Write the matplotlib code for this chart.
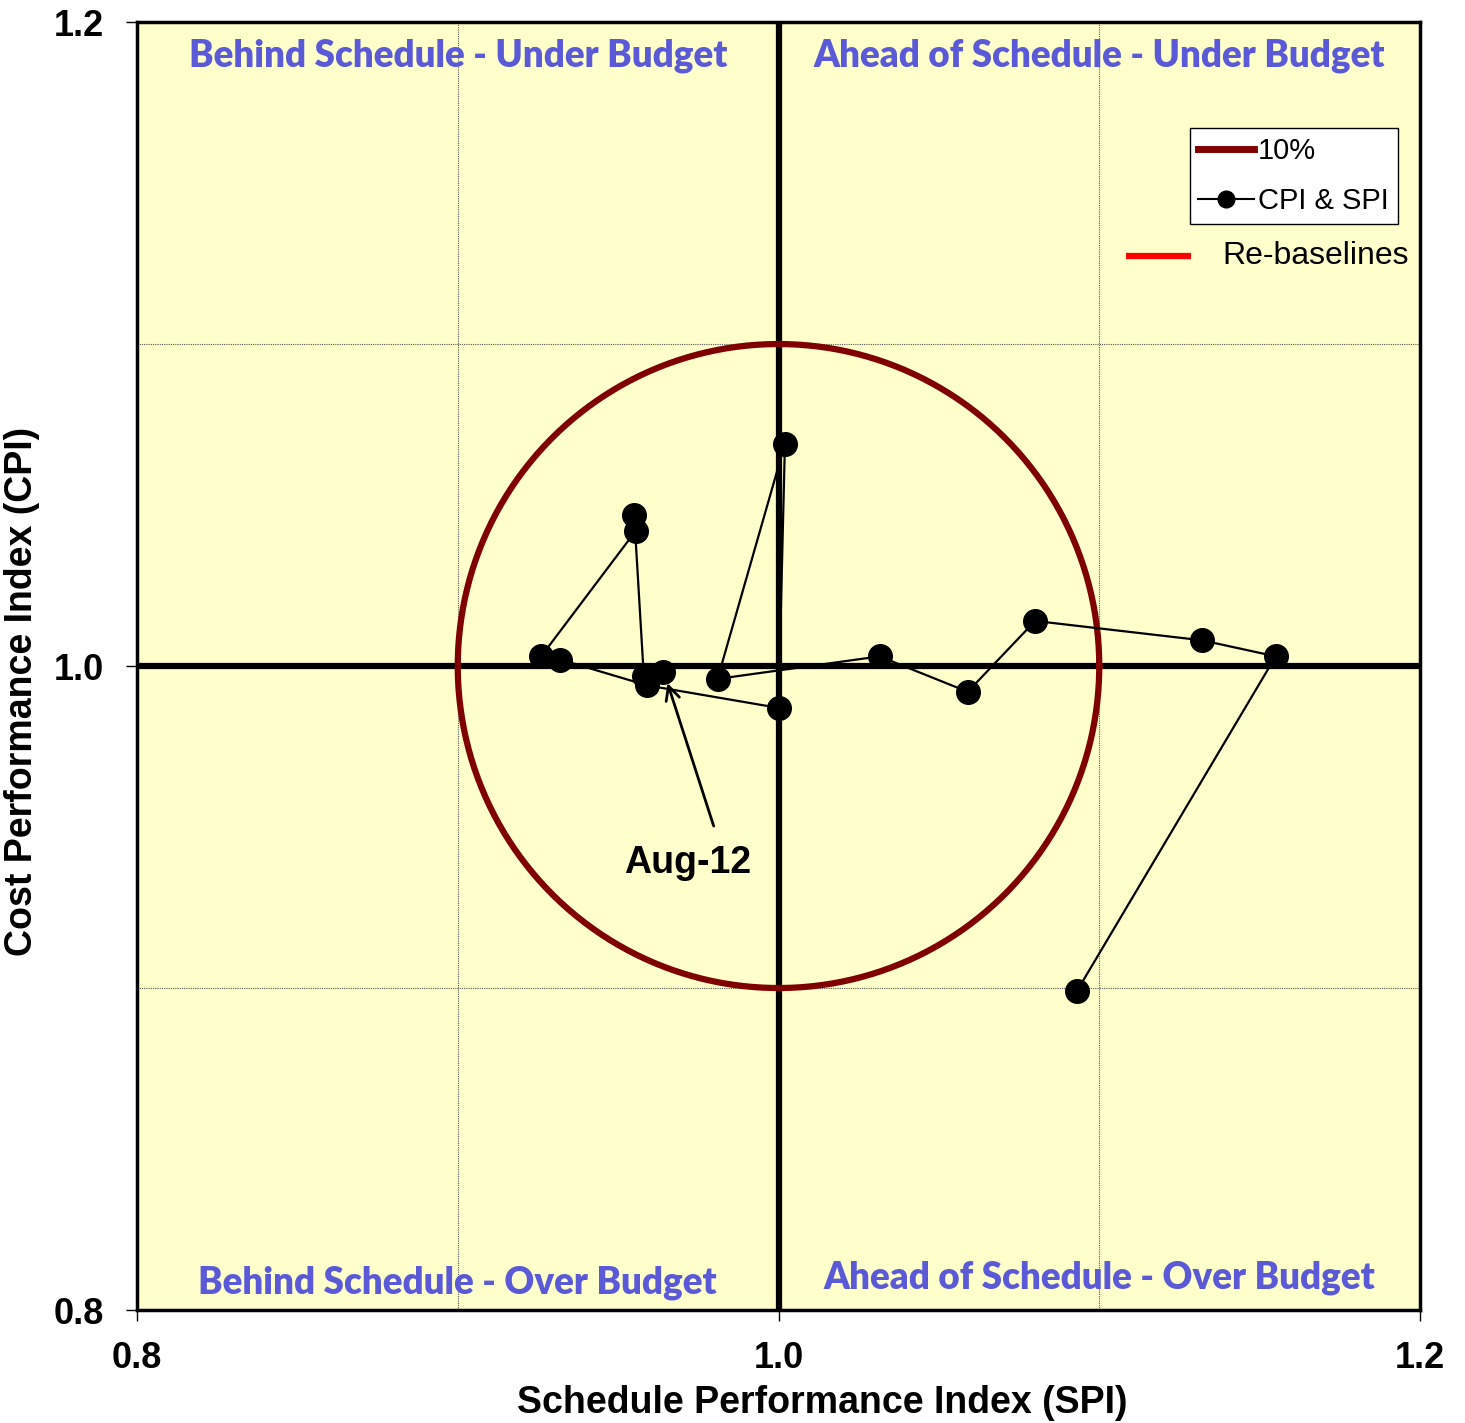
import matplotlib.pyplot as plt
import numpy as np

plt.rcParams['font.family'] = ['Liberation Sans', 'DejaVu Sans']

# CPI & SPI history (oldest first, last point is Aug-12)
spi = [1.093, 1.155, 1.132, 1.080, 1.059, 1.0315, 0.981, 1.002, 1.000,
       0.959, 0.932, 0.926, 0.9555, 0.955, 0.958, 0.964]
cpi = [0.899, 1.003, 1.008, 1.014, 0.992, 1.003, 0.996, 1.069, 0.987,
       0.994, 1.002, 1.003, 1.042, 1.047, 0.997, 0.998]

ticks = [0.8, 1.0, 1.2]
tick_labels = ["0.8", "1.0", "1.2"]
threshold = 0.10

quadrants = [
    (0.9, 1.1895, "Behind Schedule - Under Budget"),
    (1.1, 1.1895, "Ahead of Schedule - Under Budget"),
    (0.9, 0.8085, "Behind Schedule - Over Budget"),
    (1.1, 0.8100, "Ahead of Schedule - Over Budget"),
]

fig = plt.figure(figsize=(14.65, 14.23), dpi=100)
ax = fig.add_axes([0.0935, 0.0794, 0.8758, 0.9051])
ax.set_facecolor("#FFFFCC")

ax.set_xlim(0.8, 1.2)
ax.set_ylim(0.8, 1.2)

# dotted grid at the 10% marks
for v in (0.9, 1.1):
    ax.axvline(v, color="#555555", lw=0.8, ls=(0, (1, 1)), zorder=1)
    ax.axhline(v, color="#555555", lw=0.8, ls=(0, (1, 1)), zorder=1)

ax.axvline(1.0, color="black", lw=4.5, zorder=2)
ax.axhline(1.0, color="black", lw=4.5, zorder=2)

t = np.linspace(0, 2 * np.pi, 400)
circle_line, = ax.plot(1 + threshold * np.cos(t), 1 + threshold * np.sin(t),
                       color="#800000", lw=4.5, zorder=3, label="10%")

data_line, = ax.plot(spi, cpi, color="black", lw=1.6, marker="o", ms=17,
                     zorder=4, label="CPI & SPI")

for x, y, s in quadrants:
    ax.text(x, y, s, ha="center", va="center", fontsize=26.5, fontweight="heavy",
            color="#5A5AD8", family="Lato", zorder=5)

ax.text(0.9717, 0.9388, "Aug-12", fontsize=27, fontweight="bold",
        ha="center", va="center", zorder=6)
ax.annotate("", xy=(0.9654, 0.9947), xytext=(0.9798, 0.9503),
            arrowprops=dict(arrowstyle="->", color="black", lw=2,
                            mutation_scale=25, shrinkA=0, shrinkB=0),
            zorder=6)

leg = ax.legend(handles=[circle_line, data_line], loc="upper right",
                bbox_to_anchor=(0.9825, 0.9175), fontsize=21, frameon=True,
                fancybox=False, edgecolor="black", facecolor="white",
                framealpha=1, handlelength=1.9, handletextpad=0.15,
                borderpad=0.3, labelspacing=0.75, borderaxespad=0)
leg.get_frame().set_linewidth(1)
for h in leg.legend_handles:
    if h.get_label() == "10%":
        h.set_linewidth(5)
    else:
        h.set_linewidth(1.5)
        h.set_markersize(12)

# re-baselines key below the legend box
ax.plot([1.1084, 1.1287], [1.1273, 1.1273], color="red", lw=4.5,
        solid_capstyle="butt", zorder=6)
ax.text(1.1383, 1.1273, "Re-baselines", fontsize=23, va="center", ha="left",
        zorder=6)

ax.set_xticks(ticks)
ax.set_xticklabels(tick_labels)
ax.set_yticks(ticks)
ax.set_yticklabels(tick_labels)
ax.tick_params(direction="out", length=8, width=1, labelsize=26)
ax.tick_params(axis="y", pad=16)
ax.tick_params(axis="x", pad=14)
for lbl in ax.get_xticklabels() + ax.get_yticklabels():
    lbl.set_fontweight("bold")

ax.set_xlabel("Schedule Performance Index (SPI)", fontsize=27,
              fontweight="bold", labelpad=6)
ax.set_ylabel("Cost Performance Index (CPI)", fontsize=27,
              fontweight="bold", labelpad=6)
ax.xaxis.set_label_coords(0.534, -0.058)
ax.yaxis.set_label_coords(-0.0756, 0.48)

for sp in ax.spines.values():
    sp.set_linewidth(2.5)

fig.savefig("out.png", dpi=100)
